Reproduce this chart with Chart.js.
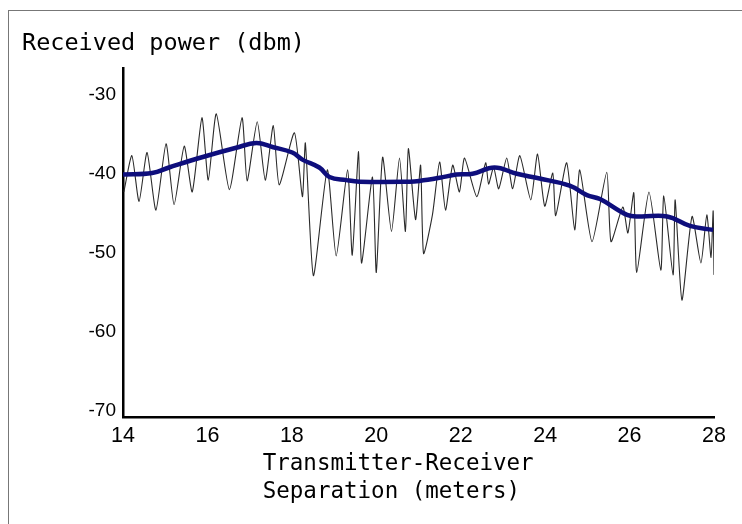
<!DOCTYPE html>
<html>
<head>
<meta charset="utf-8">
<script src="https://cdn.jsdelivr.net/npm/chart.js@4.4.1/dist/chart.umd.min.js"></script>
<style>
  html, body { margin: 0; padding: 0; background: #fff; }
  #wrap { position: relative; width: 742px; height: 524px; overflow: hidden; }
  #frame { position: absolute; left: 8px; top: 10px; right: -2px; bottom: -2px;
           border-top: 1px solid #777; border-left: 1px solid #777; }
  #c { position: absolute; left: 0; top: 0; }
</style>
</head>
<body>
<div id="wrap">
  <div id="frame"></div>
  <canvas id="c" width="742" height="524"></canvas>
</div>
<script>
// ---- data ----
const chartTitle = 'Received power (dbm)';
const xAxisTitle = ['Transmitter-Receiver   ', 'Separation (meters)    '];
const xTickValues = [14, 16, 18, 20, 22, 24, 26, 28];
const yTickValues = [-30, -40, -50, -60, -70];

// measured (fast-fading) received power
const rawDistance = [
  14.02, 14.21, 14.38, 14.57, 14.78, 15.02, 15.21, 15.45, 15.64, 15.87,
  16.02, 16.21, 16.52, 16.82, 16.94, 17.18, 17.37, 17.56, 17.70, 18.06,
  18.25, 18.32, 18.51, 18.84, 19.05, 19.32, 19.43, 19.58, 19.65, 19.91,
  20.00, 20.15, 20.36, 20.55, 20.69, 20.76, 20.93, 21.05, 21.12, 21.33,
  21.50, 21.64, 21.81, 21.97, 22.09, 22.38, 22.59, 22.66, 22.78, 22.90,
  23.09, 23.23, 23.40, 23.66, 23.82, 23.99, 24.18, 24.25, 24.51, 24.70,
  24.82, 25.11, 25.46, 25.56, 25.84, 25.96, 26.10, 26.17, 26.46, 26.74,
  26.81, 27.03, 27.08, 27.24, 27.48, 27.69, 27.83, 27.93, 27.98, 28.00
];
const rawPower = [
  -42.3, -37.7, -43.5, -37.3, -44.6, -36.2, -43.9, -36.5, -42.3, -32.9,
  -40.8, -32.4, -42.0, -32.9, -40.9, -33.4, -40.8, -33.9, -41.4, -34.8,
  -42.9, -36.1, -52.9, -39.5, -50.4, -39.5, -50.3, -37.2, -51.3, -40.4,
  -52.5, -37.9, -47.3, -38.0, -47.3, -36.8, -45.8, -38.9, -50.1, -45.2,
  -38.5, -44.6, -38.9, -42.3, -38.0, -42.9, -38.6, -41.3, -39.2, -41.9,
  -38.0, -41.9, -37.7, -43.3, -37.5, -44.1, -39.9, -45.3, -38.6, -47.1,
  -39.5, -48.6, -39.8, -48.6, -44.2, -47.5, -42.4, -52.5, -42.3, -52.2,
  -42.8, -52.8, -43.3, -56.0, -45.4, -51.3, -45.2, -50.6, -44.7, -52.8
];

// local mean received power
const meanDistance = [
  14.00, 14.69, 15.09, 15.87, 16.68, 17.16, 17.54, 18.01, 18.25, 18.65,
  18.89, 19.29, 19.60, 20.79, 21.02, 21.50, 21.90, 22.28, 22.80, 23.33,
  23.87, 24.58, 24.99, 25.30, 25.94, 26.24, 26.89, 27.43, 27.98
];
const meanPower = [
  -40.1, -39.9, -39.2, -37.9, -36.7, -36.1, -36.6, -37.3, -38.2, -39.2,
  -40.4, -40.8, -41.0, -41.0, -40.9, -40.5, -40.1, -40.0, -39.2, -40.0,
  -40.6, -41.5, -42.7, -43.2, -45.2, -45.4, -45.4, -46.6, -47.1
];

const rawPoints = rawDistance.map((d, i) => ({ x: d, y: rawPower[i] }));
const meanPoints = meanDistance.map((d, i) => ({ x: d, y: meanPower[i] }));

new Chart(document.getElementById('c'), {
  type: 'line',
  data: {
    datasets: [
      {
        label: 'Local mean',
        data: meanPoints,
        borderColor: '#0e0e7c',
        borderWidth: 4.5,
        pointRadius: 0,
        tension: 0.4,
        fill: false
      },
      {
        label: 'Received power',
        data: rawPoints,
        borderColor: '#2a2a2a',
        borderWidth: 1.1,
        pointRadius: 0,
        tension: 0.2,
        fill: false
      }
    ]
  },
  options: {
    responsive: false,
    animation: false,
    layout: { padding: { left: 22, top: 30, right: 28, bottom: 0 } },
    plugins: {
      legend: { display: false },
      tooltip: { enabled: false },
      title: {
        display: true,
        text: chartTitle,
        align: 'start',
        color: '#000',
        font: { family: 'DejaVu Sans Mono', size: 23.5, weight: 'normal', lineHeight: 1.2 },
        padding: { top: 0, bottom: 9.8 }
      }
    },
    scales: {
      x: {
        type: 'linear',
        min: 14,
        max: 28,
        afterBuildTicks: s => { s.ticks = xTickValues.map(v => ({ value: v })); },
        afterFit: s => { s.height = 107; },
        grid: { display: false, drawTicks: false },
        border: { display: true, color: '#000', width: 2.5 },
        ticks: {
          color: '#000',
          autoSkip: false,
          maxRotation: 0,
          padding: 6,
          font: { family: "'Liberation Sans Narrow', 'Liberation Sans', Arial, sans-serif", size: 21.5, lineHeight: 1.2 }
        },
        title: {
          display: true,
          text: xAxisTitle,
          color: '#000',
          font: { family: 'DejaVu Sans Mono', size: 22.5, lineHeight: 1.245 },
          padding: { top: 0, bottom: 18 }
        }
      },
      y: {
        min: -70.8,
        max: -26.6,
        afterBuildTicks: s => { s.ticks = yTickValues.map(v => ({ value: v })); },
        afterFit: s => { s.width = 101; },
        grid: { display: false, drawTicks: false },
        border: { display: true, color: '#000', width: 2.5 },
        ticks: {
          color: '#000',
          padding: 7,
          font: { family: "'Liberation Sans', Arial, sans-serif", size: 19 }
        }
      }
    }
  }
});
</script>
</body>
</html>
